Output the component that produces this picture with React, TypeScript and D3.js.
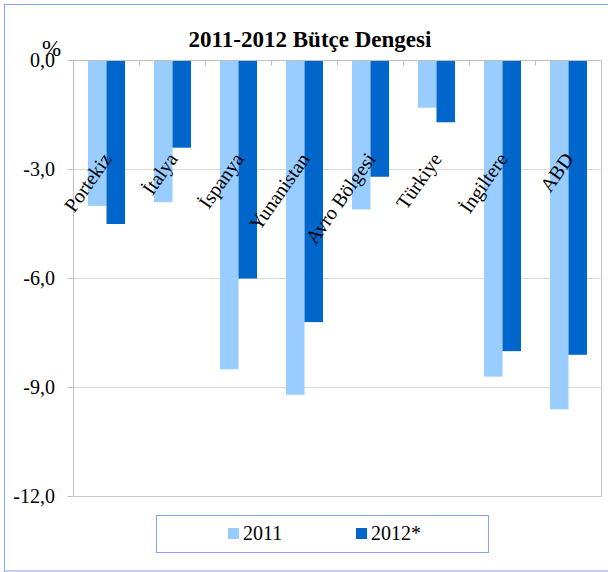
import * as d3 from "d3";

const categories = [
  "Portekiz",
  "İtalya",
  "İspanya",
  "Yunanistan",
  "Avro Bölgesi",
  "Türkiye",
  "İngiltere",
  "ABD",
];
const series = ["2011", "2012*"];
const values2011 = [-4.0, -3.9, -8.5, -9.2, -4.1, -1.3, -8.7, -9.6];
const values2012 = [-4.5, -2.4, -6.0, -7.2, -3.2, -1.7, -8.0, -8.1];
const yTicks = [0, -3, -6, -9, -12];
const colors = ["#99CCFF", "#0066CC"];

const width = 608;
const height = 572;
const marginLeft = 73.5;
const marginRight = 6.5;
const marginTop = 60.5;
const marginBottom = 75.5;
const serif = "Liberation Serif, serif";

export default function App() {
  const x0 = d3
    .scaleBand()
    .domain(categories)
    .range([marginLeft, width - marginRight])
    .padding(0);
  const x1 = d3
    .scaleBand()
    .domain(series)
    .range([0, x0.bandwidth()])
    .paddingInner(0)
    .paddingOuter(0.78);
  const y = d3
    .scaleLinear()
    .domain([-12, 0])
    .range([height - marginBottom, marginTop]);

  const fmt = (v: number) => v.toFixed(1).replace(".", ",");
  const rows = [values2011, values2012];
  const plotRight = width - marginRight;
  const plotBottom = height - marginBottom;
  const txt = { fontFamily: serif, fill: "#000" };

  return (
    <svg
      width={width}
      height={height}
      style={{ position: "absolute", left: 0, top: 0 }}
    >
      <rect x={0} y={0} width={width} height={height} fill="#fff" />
      <rect
        x={4.5}
        y={4.5}
        width={620}
        height={566.5}
        fill="none"
        stroke="#86A2F2"
        strokeWidth={1}
      />

      {/* gridlines */}
      {yTicks.map((t) => (
        <line
          key={"g" + t}
          x1={marginLeft}
          x2={plotRight}
          y1={y(t)}
          y2={y(t)}
          stroke="#D9D9D9"
          strokeWidth={1}
        />
      ))}

      {/* bars */}
      {series.map((s, si) => (
        <g key={s} fill={colors[si]}>
          {categories.map((c, ci) => {
            const v = rows[si][ci];
            return (
              <rect
                key={c}
                x={(x0(c) ?? 0) + (x1(s) ?? 0)}
                y={y(0)}
                width={x1.bandwidth()}
                height={y(v) - y(0)}
              />
            );
          })}
        </g>
      ))}

      {/* plot frame */}
      <line x1={plotRight} x2={plotRight} y1={marginTop} y2={plotBottom} stroke="#C8C8C8" />
      <line x1={marginLeft} x2={plotRight} y1={plotBottom} y2={plotBottom} stroke="#C8C8C8" />
      <line x1={marginLeft} x2={plotRight} y1={y(0)} y2={y(0)} stroke="#BFBFBF" />
      <line x1={marginLeft} x2={marginLeft} y1={marginTop} y2={plotBottom} stroke="#BFBFBF" />

      {/* category ticks at zero line */}
      {categories.slice(1).map((c) => (
        <line
          key={"t" + c}
          x1={x0(c)}
          x2={x0(c)}
          y1={y(0)}
          y2={y(0) + 5}
          stroke="#BFBFBF"
        />
      ))}

      {/* y axis */}
      {yTicks.map((t) => (
        <g key={"y" + t}>
          <line x1={marginLeft - 6} x2={marginLeft} y1={y(t)} y2={y(t)} stroke="#BFBFBF" />
          <text x={55} y={y(t) + 6.5} textAnchor="end" fontSize={20} style={txt}>
            {fmt(t)}
          </text>
        </g>
      ))}
      <text x={42} y={56} fontSize={23} style={txt}>
        %
      </text>

      {/* category labels */}
      {categories.map((c) => {
        const cx = (x0(c) ?? 0) + x0.bandwidth() / 2 + 6;
        return (
          <text
            key={"l" + c}
            transform={`translate(${cx},159) rotate(-55)`}
            textAnchor="end"
            fontSize={20}
            style={txt}
          >
            {c}
          </text>
        );
      })}

      {/* title */}
      <text x={310} y={47} textAnchor="middle" fontSize={23} fontWeight="bold" style={txt}>
        2011-2012 Bütçe Dengesi
      </text>

      {/* legend */}
      <rect x={156.5} y={515.5} width={332} height={37} fill="#fff" stroke="#86A2F2" />
      {series.map((s, i) => {
        const lx = i === 0 ? 228 : 356;
        return (
          <g key={"lg" + s}>
            <rect x={lx} y={528} width={11} height={11} fill={colors[i]} />
            <text x={lx + 15} y={540} fontSize={20} style={txt}>
              {s}
            </text>
          </g>
        );
      })}
    </svg>
  );
}
